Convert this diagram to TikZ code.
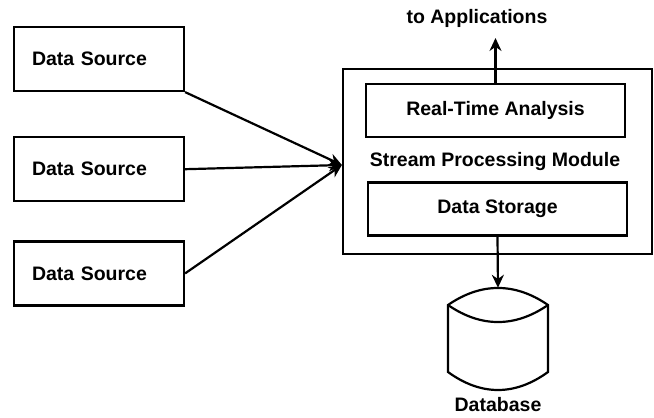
\documentclass[tikz,border=0pt]{standalone}
\usepackage{fontspec}
\setmainfont{Liberation Sans}
\usetikzlibrary{positioning,arrows.meta}
\tikzset{
  box/.style={draw, line width=2.2pt, align=center,
              font=\fontsize{19.5}{23}\selectfont\bfseries},
  srcbox/.style={box, minimum height=64pt, text width=134pt, inner xsep=18pt, align=left},
  innerbox/.style={box, minimum width=259pt, minimum height=53pt},
  lbl/.style={font=\fontsize{19.5}{23}\selectfont\bfseries, inner sep=0pt},
  arrow/.style={-{Stealth[length=13pt,width=12pt]}, line width=2.2pt},
}

\begin{document}
\begin{tikzpicture}[x=1pt, y=-1pt]
  \useasboundingbox (0,0) rectangle (654,418);

  % sources
  \node[srcbox]                    (src1) at (99,59) {Data Source};
  \node[srcbox, below=44pt of src1] (src2) {Data Source};
  \node[srcbox, below=38pt of src2] (src3) {Data Source};

  % stream processing module
  \node[box, minimum width=309pt, minimum height=185pt] (spm) at (497.5,161.5) {};
  \coordinate (spmin) at ([yshift=-3.5pt]spm.west);
  \node[lbl]       (title) at (495,161)   {Stream Processing Module};
  \node[innerbox]  (rt)    at (495.5,110.5) {Real-Time Analysis};
  \node[innerbox]  (ds)    at (497.5,209) {Data Storage};

  % outputs
  \node[lbl] (apps) at (477,18) {to Applications};
  \coordinate (appin) at (495.5,38);
  \node[minimum width=100pt, minimum height=102pt, inner sep=0pt] (db) at (498,339) {};
  \node[lbl, below=7pt of db] (dblbl) {Database};

  \begin{scope}[shift={(db.center)}, line width=2.2pt]
    \draw (-50,-34) .. controls (-17,-56.7) and (17,-56.7) .. (50,-34)
          -- (50,33) .. controls (17,57) and (-17,57) .. (-50,33) -- cycle;
    \draw (-50,-34) .. controls (-17,-11.3) and (17,-11.3) .. (50,-34);
  \end{scope}

  \draw[arrow] (src1.south east) -- (spmin);
  \draw[arrow] (src2.east) -- (spmin);
  \draw[arrow] (src3.east) -- (spmin);
  \draw[arrow] (rt.north) -- (appin);
  \draw[arrow] (ds.south) -- (db.north);
\end{tikzpicture}
\end{document}
